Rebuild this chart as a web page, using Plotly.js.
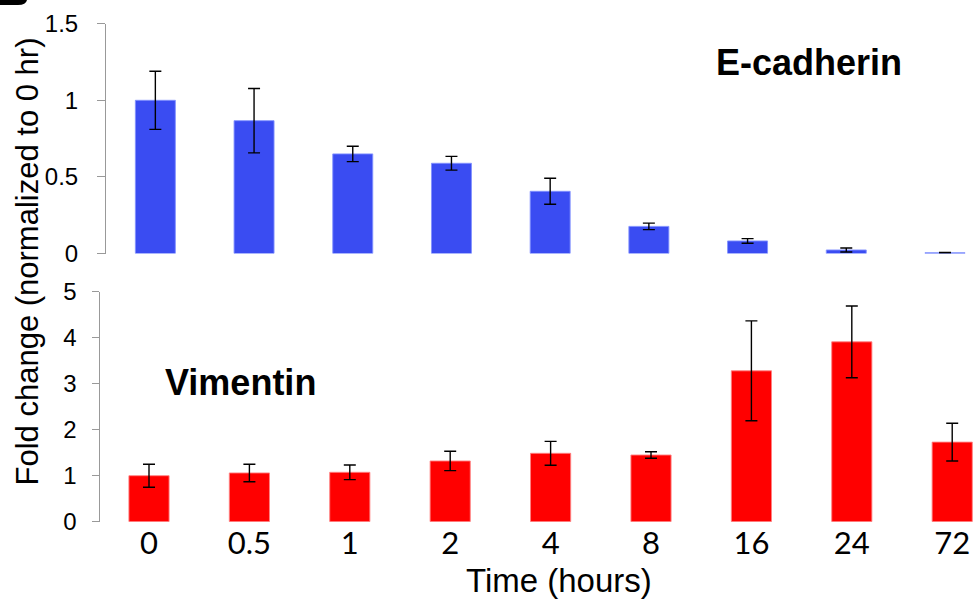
<!DOCTYPE html>
<html>
<head>
<meta charset="utf-8">
<script src="https://cdn.plot.ly/plotly-3.0.1.min.js"></script>
<style>
html,body{margin:0;padding:0;background:#fff;}
#chart{width:974px;height:602px;}
</style>
</head>
<body>
<div id="chart"></div>
<script>
const categories = ['0', '0.5', '1', '2', '4', '8', '16', '24', '72'];
const ecadherin = [1.0, 0.867, 0.65, 0.589, 0.406, 0.177, 0.082, 0.023, 0.005];
const ecadherinErr = [0.19, 0.21, 0.05, 0.045, 0.085, 0.021, 0.015, 0.013, 0.002];
const vimentin = [1.0, 1.06, 1.074, 1.32, 1.487, 1.45, 3.28, 3.91, 1.73];
const vimentinErr = [0.25, 0.19, 0.16, 0.21, 0.26, 0.07, 1.085, 0.78, 0.41];
const topTicks = [0, 0.5, 1, 1.5];
const topTickText = ['0', '0.5', '1', '1.5'];
const bottomTicks = [0, 1, 2, 3, 4, 5];

const W = 974, H = 602;
const px = x => x / W;
const py = y => 1 - y / H;

const traces = [
  {
    type: 'bar', x: categories, y: ecadherin, xaxis: 'x', yaxis: 'y',
    width: 0.405,
    marker: {color: '#3a4cf2', line: {color: 'rgba(130,145,255,0.9)', width: 1}},
    error_y: {type: 'data', array: ecadherinErr, visible: true, color: '#000', thickness: 1.4, width: 6},
    hoverinfo: 'x+y', showlegend: false
  },
  {
    type: 'bar', x: categories, y: vimentin, xaxis: 'x2', yaxis: 'y2',
    width: 0.4,
    marker: {color: '#ff0000', line: {color: 'rgba(255,130,130,0.9)', width: 1}},
    error_y: {type: 'data', array: vimentinErr, visible: true, color: '#000', thickness: 1.4, width: 6},
    hoverinfo: 'x+y', showlegend: false
  }
];

const yTickFont = {family: 'Liberation Sans, Arial, sans-serif', size: 24, color: '#000'};

const layout = {
  width: W, height: H,
  margin: {l: 0, r: 0, t: 0, b: 0},
  paper_bgcolor: '#fff', plot_bgcolor: 'rgba(0,0,0,0)',
  showlegend: false,
  xaxis: {
    type: 'category', domain: [px(106), 1], range: [-0.5, 8.294],
    anchor: 'y', showline: false, showticklabels: false, ticks: '', showgrid: false, zeroline: false
  },
  yaxis: {
    domain: [py(253.5), py(23.7)], range: [0, 1.5], anchor: 'x',
    tickmode: 'array', tickvals: topTicks, ticktext: topTickText,
    showgrid: false, zeroline: false, showline: true, linecolor: '#999', linewidth: 1,
    ticks: 'outside', ticklen: 8, tickcolor: '#999', tickwidth: 1,
    tickfont: yTickFont, ticklabelstandoff: 14
  },
  xaxis2: {
    type: 'category', domain: [px(99.5), 1], range: [-0.493, 8.217],
    anchor: 'y2', showline: false, ticks: '', showgrid: false, zeroline: false,
    tickfont: {family: 'Lato, Open Sans, sans-serif', size: 31, color: '#000'},
    ticklabelstandoff: 0
  },
  yaxis2: {
    domain: [py(521.7), py(291.7)], range: [0, 5], anchor: 'x2',
    tickmode: 'array', tickvals: bottomTicks,
    showgrid: false, zeroline: false, showline: true, linecolor: '#999', linewidth: 1,
    ticks: 'outside', ticklen: 7, tickcolor: '#999', tickwidth: 1,
    tickfont: yTickFont, ticklabelstandoff: 10
  },
  annotations: [
    {text: 'E-cadherin', xref: 'paper', yref: 'paper', x: px(809), y: py(63),
     xanchor: 'center', yanchor: 'middle', showarrow: false,
     font: {family: 'Liberation Sans, Arial, sans-serif', size: 36, color: '#000', weight: 'bold'}},
    {text: 'Vimentin', xref: 'paper', yref: 'paper', x: px(240.5), y: py(382),
     xanchor: 'center', yanchor: 'middle', showarrow: false,
     font: {family: 'Liberation Sans, Arial, sans-serif', size: 36, color: '#000', weight: 'bold'}},
    {text: 'Fold change (normalized to 0 hr)', xref: 'paper', yref: 'paper', x: px(27), y: py(261.5),
     xanchor: 'center', yanchor: 'middle', showarrow: false, textangle: -90,
     font: {family: 'Liberation Sans, Arial, sans-serif', size: 31, color: '#000'}},
    {text: 'Time (hours)', xref: 'paper', yref: 'paper', x: px(559), y: py(580),
     xanchor: 'center', yanchor: 'middle', showarrow: false,
     font: {family: 'Liberation Sans, Arial, sans-serif', size: 33, color: '#000'}}
  ],
  shapes: [
    {type: 'path', xref: 'paper', yref: 'paper',
     path: `M 0,1 L ${px(27)},1 Q ${px(26)},${py(5)} ${px(18)},${py(5)} L 0,${py(5)} Z`,
     fillcolor: '#000', line: {width: 0}}
  ]
};

Plotly.newPlot('chart', traces, layout, {displayModeBar: false, staticPlot: true});
</script>
</body>
</html>
